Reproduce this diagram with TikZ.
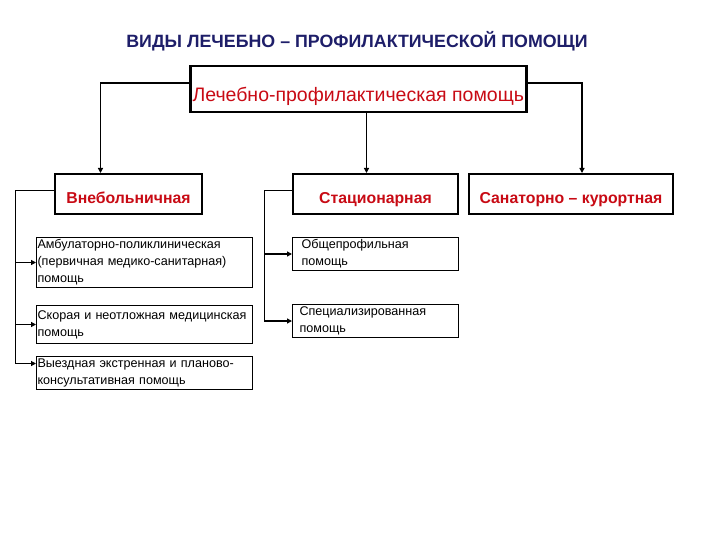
\documentclass[tikz,border=0pt]{standalone}
\usepackage{fontspec}
\setmainfont{Liberation Sans}
\usetikzlibrary{arrows.meta}
\definecolor{titleblue}{RGB}{30,30,105}
\definecolor{kindred}{RGB}{200,10,20}

\tikzset{
  mainbox/.style={draw,line width=2.5pt,anchor=north west,minimum width=336pt,minimum height=46pt,
    inner sep=0pt,text height=24pt,text depth=0pt,text=kindred,font=\fontsize{19.5}{22}\selectfont},
  kindbox/.style={draw,line width=2pt,anchor=north west,minimum height=40pt,inner sep=0pt,
    text height=20pt,text depth=0pt,text=kindred,font=\bfseries\fontsize{15.8}{18}\selectfont},
  subbox/.style={draw,line width=1pt,anchor=north west,align=left,inner xsep=1pt,inner ysep=0pt,
    font=\fontsize{12.6}{17}\selectfont}
}

\begin{document}
\begin{tikzpicture}[x=1pt,y=-1pt,>={Triangle[length=5pt,width=5pt]}]
\useasboundingbox (0,0) rectangle (720,540);

% title
\node (title) at (357,41) {\color{titleblue}\bfseries\fontsize{17.8}{20}\selectfont ВИДЫ ЛЕЧЕБНО – ПРОФИЛАКТИЧЕСКОЙ ПОМОЩИ};

% nodes
\node (top) [mainbox] at (189,65) {Лечебно-профилактическая помощь};
\node (out) [kindbox,minimum width=147pt] at (54,173) {Внебольничная};
\node (stat) [kindbox,minimum width=165pt] at (292,173) {Стационарная};
\node (san) [kindbox,minimum width=204pt] at (468,173) {Санаторно – курортная};

\node (a1) [subbox,text width=214pt,minimum height=50pt] at (36,237)
  {Амбулаторно-поликлиническая\\(первичная медико-санитарная)\\помощь};
\node (a2) [subbox,text width=214pt,minimum height=38pt] at (36,305)
  {Скорая и неотложная медицинская\\помощь};
\node (a3) [subbox,text width=214pt,minimum height=33pt] at (36,356)
  {Выездная экстренная и планово-\\консультативная помощь};
\node (b1) [subbox,text width=148pt,inner xsep=9pt,minimum height=33pt] at (292,237)
  {Общепрофильная\\помощь};
\node (b2) [subbox,text width=152pt,inner xsep=7pt,minimum height=33pt] at (292,304)
  {Специализированная\\помощь};

\coordinate (lbus) at (15,0);
\coordinate (rbus) at (264,0);

% arrows
\draw[->,line width=1.5pt] ([yshift=6pt]top.west) -| ([xshift=-28pt]out.north);
\draw[->,line width=1.5pt] ([xshift=-9pt]stat.north |- top.south) -- ([xshift=-9pt]stat.north);
\draw[->,line width=1.5pt] ([yshift=6pt]top.east) -| ([xshift=11pt]san.north);

\draw[line width=1pt] ([yshift=3pt]out.west) -| (a3.175 -| lbus);
\foreach \b/\a in {a1/west,a2/west,a3/175}
  \draw[->,line width=1.2pt] (\b.\a -| lbus) -- (\b.\a);
\draw[line width=1pt] ([yshift=3pt]stat.west) -| (b2.west -| rbus);
\foreach \b in {b1,b2}
  \draw[->,line width=1.2pt] (\b.west -| rbus) -- (\b.west);
\end{tikzpicture}
\end{document}
